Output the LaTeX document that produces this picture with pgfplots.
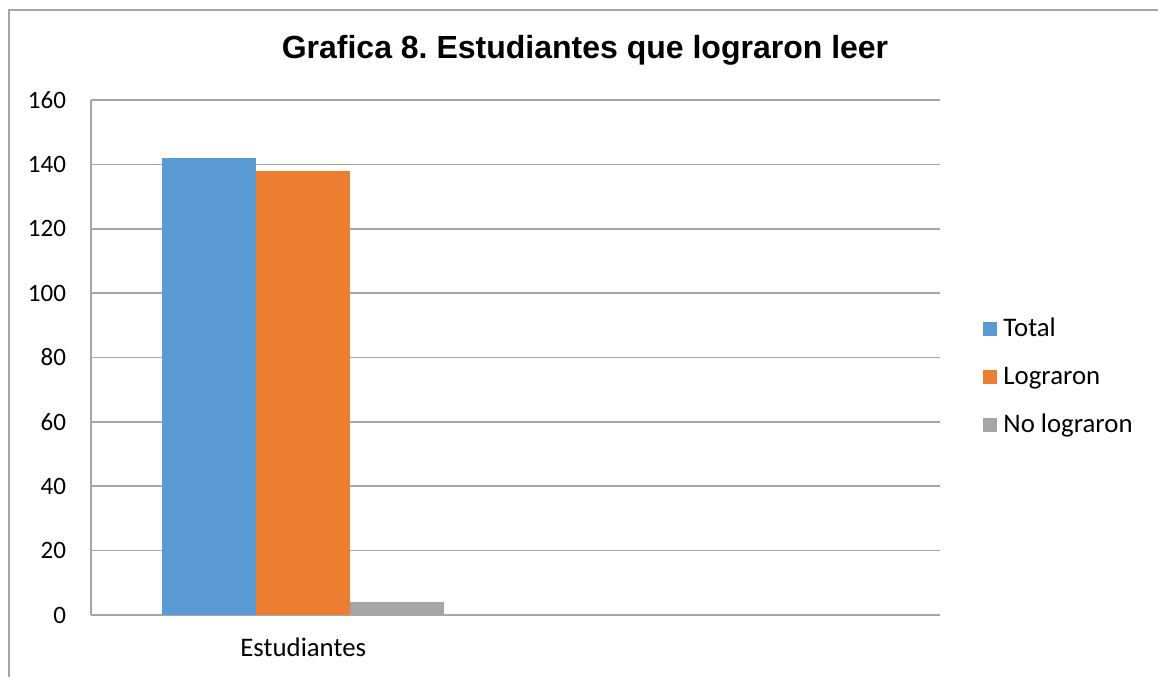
\documentclass[border=0pt]{standalone}
\usepackage{fontspec}
\setmainfont{Carlito}
\newfontfamily\titlefont{Liberation Sans}
\usepackage{pgfplots}
\pgfplotsset{compat=1.18}
\definecolor{cblue}{HTML}{5B9BD5}
\definecolor{corange}{HTML}{ED7D31}
\definecolor{cgray}{HTML}{A5A5A5}
\definecolor{lgray}{HTML}{A6A6A6}
\frenchspacing
\begin{document}
\begin{tikzpicture}
\useasboundingbox (0,0) rectangle (579pt,338.5pt);
\draw[color=lgray, line width=0.8pt] (4.5pt,0pt) -- (4.5pt,333.5pt) -- (579pt,333.5pt);
\node[font=\titlefont\bfseries\fontsize{16}{19}\selectfont] at (292.5pt,313.5pt) {Grafica 8. Estudiantes que lograron leer};
\begin{axis}[
  at={(45.5pt,31pt)}, anchor=south west,
  scale only axis, width=424.5pt, height=257.5pt,
  xmin=-0.5, xmax=1.5, ymin=0, ymax=160,
  ytick={0,20,...,160},
  xtick={0}, xticklabels={Estudiantes},
  major tick length=0pt,
  ybar=0pt, bar width=0.2214,
  axis x line*=bottom, axis y line*=left,
  axis line style={color=lgray, line width=0.8pt, -},
  ymajorgrids, grid style={color=lgray, line width=0.8pt},
  tick label style={color=black},
  /pgf/number format/assume math mode=true,
  yticklabel style={xshift=-9pt, font=\fontsize{12.5}{14}\selectfont},
  xticklabel style={yshift=-8pt, font=\fontsize{13.4}{15}\selectfont},
  legend style={at={(1.0507,0.462)}, anchor=west, draw=none, fill=none, inner sep=0pt,
    font=\fontsize{13.4}{15}\selectfont, row sep=7.5pt,
    nodes={inner sep=3pt}},
  legend cell align=left,
  legend image code/.code={\fill[#1] (0pt,-3.5pt) rectangle (7pt,3.5pt);},
]
\addplot[fill=cblue, draw=none] coordinates {(0,142)};
\addplot[fill=corange, draw=none] coordinates {(0,138)};
\addplot[fill=cgray, draw=none] coordinates {(0,4)};
\legend{Total, Lograron, No lograron}
\end{axis}
\end{tikzpicture}
\end{document}
